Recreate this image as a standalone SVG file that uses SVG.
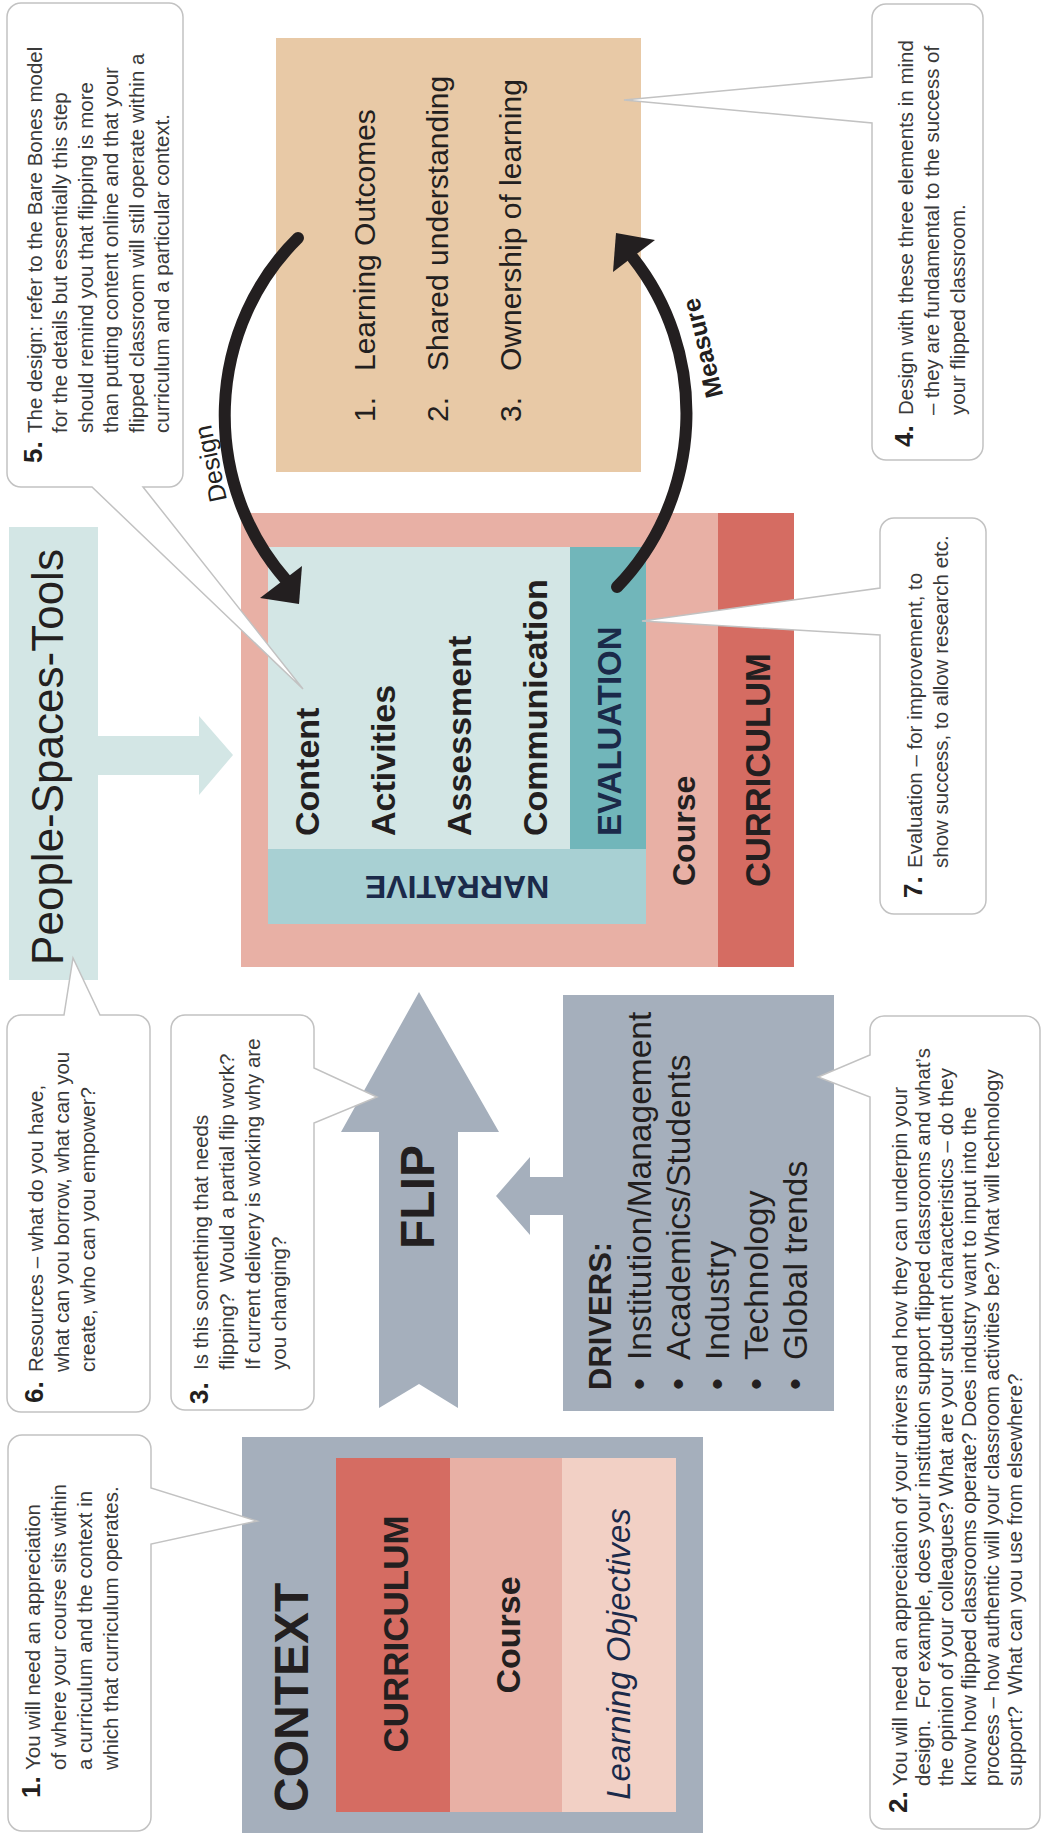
<svg xmlns="http://www.w3.org/2000/svg" width="1045" height="1833" viewBox="0 0 1045 1833">
<style>
text { font-family: "Liberation Sans", Arial, sans-serif; fill: #231f20; }
.co { fill: #ffffff; stroke: #c2c2c2; stroke-width: 1.5; }
.ct { font-size: 20.5px; fill: #3a3a3a; white-space: pre; }
.cn { font-size: 26px; font-weight: bold; fill: #231f20; }
.bx { font-weight: bold; }
.hv { font-weight: 900; }
.nv { fill: #1b2a4a; }
.arc { fill: none; stroke: #231f20; stroke-width: 12; }
.ah { fill: #231f20; }
</style>
<rect width="1045" height="1833" fill="#ffffff"/>

<!-- Beige: three elements -->
<g id="elements">
  <rect x="276" y="38" width="365" height="434" fill="#e8c9a6"/>
  <g transform="translate(375,422) rotate(-90)"><text font-size="30">1.</text><text x="51" font-size="30">Learning Outcomes</text></g>
  <g transform="translate(448,422) rotate(-90)"><text font-size="30">2.</text><text x="51" font-size="30">Shared understanding</text></g>
  <g transform="translate(521,422) rotate(-90)"><text font-size="30">3.</text><text x="51" font-size="30">Ownership of learning</text></g>
</g>

<!-- Course / design box -->
<g id="course">
  <rect x="241" y="513" width="477" height="454" fill="#e8b0a5"/>
  <rect x="718" y="513" width="76" height="454" fill="#d56c62"/>
  <rect x="268" y="547" width="302" height="302" fill="#d3e6e5"/>
  <rect x="570" y="547" width="76" height="302" fill="#71b6ba"/>
  <rect x="268" y="849" width="378" height="75" fill="#a8d0d3"/>
  <text class="bx" font-size="34" transform="translate(319,836) rotate(-90)">Content</text>
  <text class="bx" font-size="34" transform="translate(395,836) rotate(-90)">Activities</text>
  <text class="bx" font-size="34" transform="translate(471,836) rotate(-90)">Assessment</text>
  <text class="bx" font-size="34" transform="translate(547,836) rotate(-90)">Communication</text>
  <text class="bx nv" font-size="33" transform="translate(621,836) rotate(-90)">EVALUATION</text>
  <text class="bx nv" font-size="32" text-anchor="middle" transform="translate(457,876) rotate(180)">NARRATIVE</text>
  <text class="bx" font-size="32" transform="translate(695,886) rotate(-90)">Course</text>
  <text class="bx" font-size="34.5" transform="translate(770,887) rotate(-90)">CURRICULUM</text>
</g>

<!-- People-Spaces-Tools -->
<g id="people">
  <rect x="9" y="527" width="89" height="453" fill="#d3e6e5"/>
  <text font-size="44" text-anchor="middle" transform="translate(63,757) rotate(-90)">People-Spaces-Tools</text>
</g>

<!-- FLIP arrow -->
<g id="flip">
  <polygon points="419,992 499,1132 458,1132 458,1408 419,1384 379,1408 379,1132 341,1132" fill="#a5afbc"/>
  <text class="hv" font-size="48" text-anchor="middle" transform="translate(434,1197) rotate(-90)">FLIP</text>
</g>

<!-- Drivers -->
<g id="drivers">
  <rect x="563" y="995" width="271" height="416" fill="#a5afbc"/>
  <text class="hv" font-size="31" transform="translate(611,1390) rotate(-90)">DRIVERS:</text>
  <g font-size="33.5">
    <g transform="translate(651,1390) rotate(-90)"><text>•</text><text x="30">Institution/Management</text></g>
    <g transform="translate(690,1390) rotate(-90)"><text>•</text><text x="30">Academics/Students</text></g>
    <g transform="translate(729,1390) rotate(-90)"><text>•</text><text x="30">Industry</text></g>
    <g transform="translate(768,1390) rotate(-90)"><text>•</text><text x="30">Technology</text></g>
    <g transform="translate(807,1390) rotate(-90)"><text>•</text><text x="30">Global trends</text></g>
  </g>
</g>

<!-- Context -->
<g id="context">
  <rect x="242" y="1437" width="461" height="396" fill="#a5afbc"/>
  <rect x="336" y="1458" width="114" height="354" fill="#d56c62"/>
  <rect x="450" y="1458" width="112" height="354" fill="#e8b0a5"/>
  <rect x="562" y="1458" width="114" height="354" fill="#f2d0c5"/>
  <text class="hv" font-size="48" transform="translate(308,1812) rotate(-90)">CONTEXT</text>
  <text class="bx" font-size="35" text-anchor="middle" transform="translate(408,1634) rotate(-90)">CURRICULUM</text>
  <text class="bx" font-size="34" text-anchor="middle" transform="translate(520,1635) rotate(-90)">Course</text>
  <text class="nv" font-size="33" font-style="italic" text-anchor="middle" transform="translate(630,1654) rotate(-90)">Learning Objectives</text>
</g>

<!-- Connectors -->
<g id="connectors">
  <polygon points="98,736 199,736 199,716 233,755 199,795 199,775 98,775" fill="#d3e6e5"/>
  <polygon points="563,1177 530,1177 530,1157 496,1196 530,1235 530,1215 563,1215" fill="#a5afbc"/>
  <path class="arc" d="M298,238 A229,242 0 0 0 286,580" stroke-linecap="round"/>
  <polygon class="ah" points="299,604 260,598 302,566"/>
  <path class="arc" d="M617,587 A229,242 0 0 0 633,258" stroke-linecap="round"/>
  <polygon class="ah" points="616,233 655,240 613,272"/>
  <text font-size="25" text-anchor="middle" transform="translate(219,462) rotate(-102)">Design</text>
  <text class="bx" font-size="25" text-anchor="middle" transform="translate(711,346) rotate(-104)">Measure</text>
</g>

<!-- Callouts -->
<g id="note5">
  <path class="co" d="M21,3 H169 A14,14 0 0 1 183,17 V473 A14,14 0 0 1 169,487 H143 L303,689 L92,487 H21 A14,14 0 0 1 7,473 V17 A14,14 0 0 1 21,3 Z"/>
  <text class="ct" transform="translate(42,433) rotate(-90)"><tspan class="cn" x="-30" y="0">5.</tspan><tspan x="0" y="0">The design: refer to the Bare Bones model</tspan><tspan x="0" y="25.4">for the details but essentially this step</tspan><tspan x="0" y="50.8">should remind you that flipping is more</tspan><tspan x="0" y="76.2">than putting content online and that your</tspan><tspan x="0" y="101.6">flipped classroom will still operate within a</tspan><tspan x="0" y="127">curriculum and a particular context.</tspan></text>
</g>
<g id="note4">
  <path class="co" d="M886,4 H969 A14,14 0 0 1 983,18 V446 A14,14 0 0 1 969,460 H886 A14,14 0 0 1 872,446 V123 L624,100 L872,77 V18 A14,14 0 0 1 886,4 Z"/>
  <text class="ct" transform="translate(913,415) rotate(-90)"><tspan class="cn" x="-32" y="0">4.</tspan><tspan x="0" y="0">Design with these three elements in mind</tspan><tspan x="0" y="26">– they are fundamental to the success of</tspan><tspan x="0" y="52">your flipped classroom.</tspan></text>
</g>
<g id="note7">
  <path class="co" d="M894,518 H972 A14,14 0 0 1 986,532 V900 A14,14 0 0 1 972,914 H894 A14,14 0 0 1 880,900 V635 L642,621 L880,588 V532 A14,14 0 0 1 894,518 Z"/>
  <text class="ct" transform="translate(922,868) rotate(-90)"><tspan class="cn" x="-30" y="0">7.</tspan><tspan x="0" y="0">Evaluation – for improvement, to</tspan><tspan x="0" y="26">show success, to allow research etc.</tspan></text>
</g>
<g id="note6">
  <path class="co" d="M21,1015 H64 L73,958 L100,1015 H136 A14,14 0 0 1 150,1029 V1398 A14,14 0 0 1 136,1412 H21 A14,14 0 0 1 7,1398 V1029 A14,14 0 0 1 21,1015 Z"/>
  <text class="ct" transform="translate(43,1372) rotate(-90)"><tspan class="cn" x="-31" y="0">6.</tspan><tspan x="0" y="0">Resources – what do you have,</tspan><tspan x="0" y="26">what can you borrow, what can you</tspan><tspan x="0" y="52">create, who can you empower?</tspan></text>
</g>
<g id="note3">
  <path class="co" d="M185,1015 H300 A14,14 0 0 1 314,1029 V1068 L377,1097 L314,1123 V1396 A14,14 0 0 1 300,1410 H185 A14,14 0 0 1 171,1396 V1029 A14,14 0 0 1 185,1015 Z"/>
  <text class="ct" transform="translate(208,1370) rotate(-90)"><tspan class="cn" x="-34" y="0">3.</tspan><tspan x="0" y="0">Is this something that needs</tspan><tspan x="0" y="26">flipping?  Would a partial flip work?</tspan><tspan x="0" y="52">If current delivery is working why are</tspan><tspan x="0" y="78">you changing?</tspan></text>
</g>
<g id="note1">
  <path class="co" d="M22,1435 H137 A14,14 0 0 1 151,1449 V1488 L257,1521 L151,1544 V1817 A14,14 0 0 1 137,1831 H22 A14,14 0 0 1 8,1817 V1449 A14,14 0 0 1 22,1435 Z"/>
  <text class="ct" transform="translate(40,1770) rotate(-90)"><tspan class="cn" x="-28" y="0">1.</tspan><tspan x="0" y="0">You will need an appreciation</tspan><tspan x="0" y="26">of where your course sits within</tspan><tspan x="0" y="52">a curriculum and the context in</tspan><tspan x="0" y="78">which that curriculum operates.</tspan></text>
</g>
<g id="note2">
  <path class="co" d="M884,1016 H1026 A14,14 0 0 1 1040,1030 V1815 A14,14 0 0 1 1026,1829 H884 A14,14 0 0 1 870,1815 V1097 L818,1077 L870,1055 V1030 A14,14 0 0 1 884,1016 Z"/>
  <text class="ct" transform="translate(907,1786) rotate(-90)"><tspan class="cn" x="-27" y="0">2.</tspan><tspan x="0" y="0">You will need an appreciation of your drivers and how they can underpin your</tspan><tspan x="0" y="23">design.  For example, does your institution support flipped classrooms and what’s</tspan><tspan x="0" y="46">the opinion of your colleagues? What are your student characteristics – do they</tspan><tspan x="0" y="69">know how flipped classrooms operate? Does industry want to input into the</tspan><tspan x="0" y="92">process – how authentic will your classroom activities be? What will technology</tspan><tspan x="0" y="115">support?  What can you use from elsewhere?</tspan></text>
</g>
</svg>
